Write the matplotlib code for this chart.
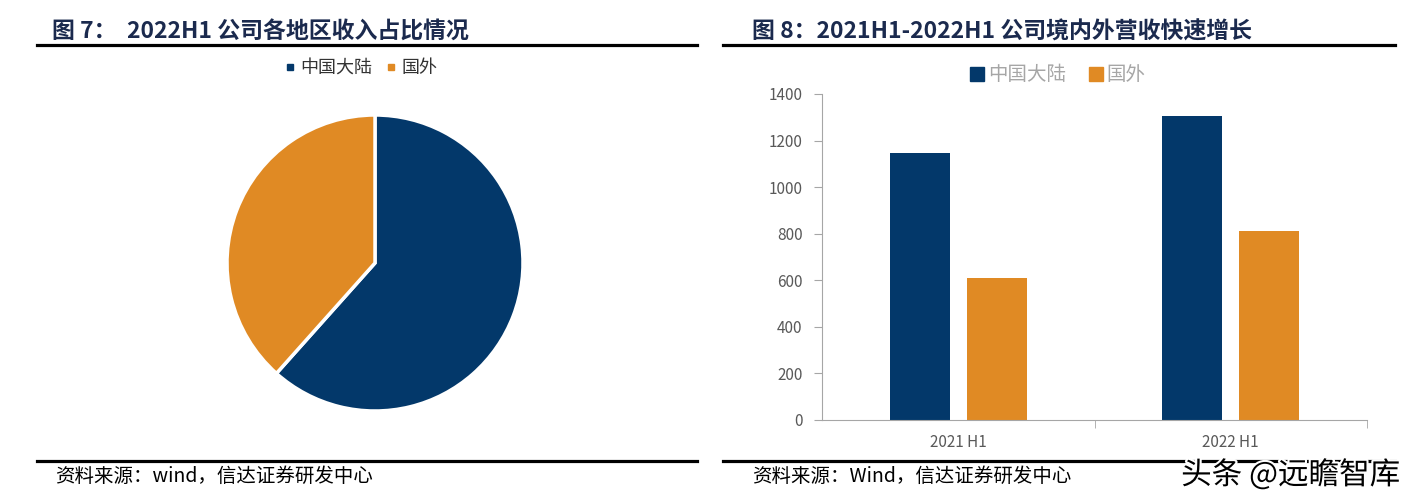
import matplotlib.pyplot as plt
from matplotlib.lines import Line2D
from matplotlib.patches import Patch
import matplotlib.patheffects as pe

plt.rcParams['font.family'] = ['Noto Sans CJK SC', 'DejaVu Sans']

# 数据
regions = ['中国大陆', '国外']
pie_share = [61.6, 38.4]          # 2022H1 收入占比 (%)
periods = ['2021 H1', '2022 H1']
mainland = [1146, 1305]
overseas = [610, 811]
y_ticks = [0, 200, 400, 600, 800, 1000, 1200, 1400]

blue = '#03386A'
orange = '#E08A24'
title_color = '#1B2A4E'
grey = '#595959'

fig = plt.figure(figsize=(14.11, 5.0), dpi=100)

# 标题与分隔线
fig.text(52/1411, 1-32/500, '图 7：  2022H1 公司各地区收入占比情况', fontsize=16.5,
         fontweight='bold', color=title_color, va='center', ha='left')
fig.text(752/1411, 1-32/500, '图 8：2021H1-2022H1 公司境内外营收快速增长', fontsize=16.5,
         fontweight='bold', color=title_color, va='center', ha='left')
for x0, x1 in [(37, 697), (723, 1395)]:
    fig.add_artist(Line2D([x0/1411, x1/1411], [1-45/500]*2, color='black', lw=2.3))
    fig.add_artist(Line2D([x0/1411, x1/1411], [1-461/500]*2, color='black', lw=2.3))

fig.text(55/1411, 1-476/500, '资料来源：wind，信达证券研发中心', fontsize=14,
         color='black', va='center', ha='left')
fig.text(752/1411, 1-476/500, '资料来源：Wind，信达证券研发中心', fontsize=14,
         color='black', va='center', ha='left')

# 饼图
ax1 = fig.add_axes([(375-148)/1411, (500-263-148)/500, 296/1411, 296/500])
ax1.pie(pie_share, colors=[blue, orange], startangle=90, counterclock=False,
        wedgeprops=dict(edgecolor='white', linewidth=2.5))
ax1.set_xlim(-1, 1)
ax1.set_ylim(-1, 1)
h1 = [Line2D([], [], marker='s', ls='', color=c, markersize=5) for c in [blue, orange]]
fig.legend(h1, regions, loc='center', bbox_to_anchor=(360/1411, 1-68/500), ncol=2,
           frameon=False, fontsize=13, labelcolor='#333333', handletextpad=0.2,
           columnspacing=0.6, handlelength=0.8)

# 柱状图
ax2 = fig.add_axes([822/1411, 80/500, 545/1411, 326/500])
x = range(len(periods))
w = 0.22
ax2.bar([i - 0.141 for i in x], mainland, width=w, color=blue)
ax2.bar([i + 0.141 for i in x], overseas, width=w, color=orange)
ax2.set_xlim(-0.5, 1.5)
ax2.set_ylim(0, 1400)
ax2.set_yticks(y_ticks)
ax2.set_xticks(list(x))
ax2.set_xticklabels(periods)
ax2.set_xticks([0.5, 1.5], minor=True)
ax2.tick_params(axis='x', which='major', length=0, pad=10, labelsize=11, labelcolor=grey)
ax2.tick_params(axis='x', which='minor', length=6, color='#A6A6A6', direction='out')
ax2.tick_params(axis='y', length=6, color='#A6A6A6', labelsize=11, labelcolor=grey, pad=8)
for s in ['top', 'right']:
    ax2.spines[s].set_visible(False)
for s in ['left', 'bottom']:
    ax2.spines[s].set_color('#A6A6A6')
h2 = [Patch(color=c) for c in [blue, orange]]
fig.legend(h2, regions, loc='center', bbox_to_anchor=(1058/1411, 1-75/500), ncol=2,
           frameon=False, fontsize=14, labelcolor='#A6A6A6', handletextpad=0.2,
           columnspacing=1.2, handlelength=0.7, handleheight=0.7)

# 水印
fig.text(1400/1411, 1-475/500, '头条 @远瞻智库', fontsize=22, color='black',
         ha='right', va='center',
         path_effects=[pe.withStroke(linewidth=3, foreground='white')])

fig.savefig('out.png', dpi=100)
